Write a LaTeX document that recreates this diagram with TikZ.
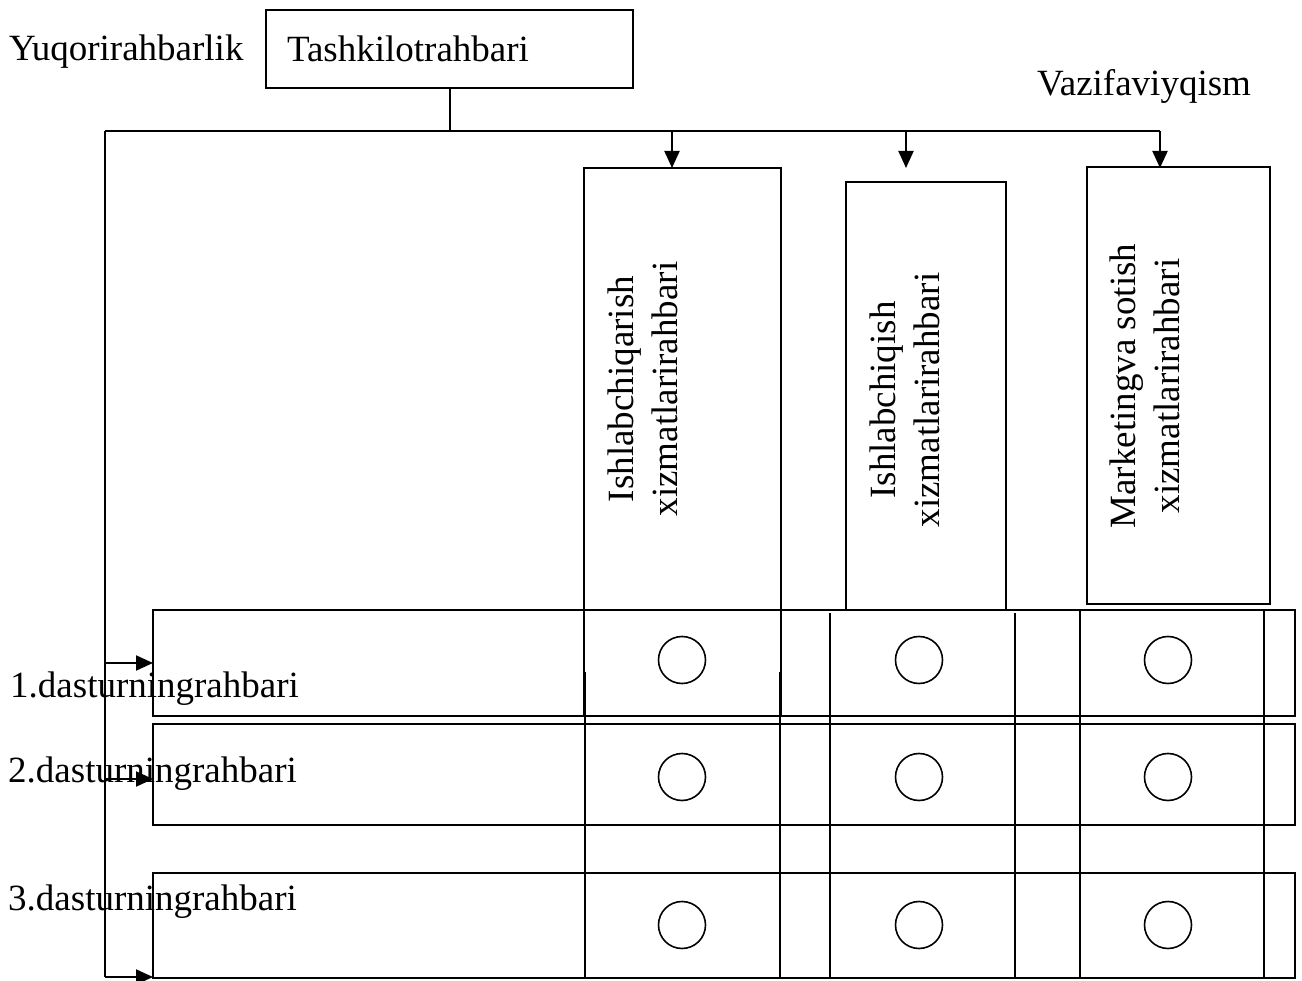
\documentclass[tikz,border=0pt]{standalone}
\usepackage{fontspec}
\setmainfont{Liberation Serif}
\usetikzlibrary{arrows.meta}
\begin{document}
\begin{tikzpicture}[x=1pt,y=-1pt,
  every node/.style={font=\fontsize{37}{44}\selectfont},
  frame/.style={draw, line width=2pt, rectangle, inner sep=0pt, outer sep=0pt, anchor=north west},
  link/.style={line width=2pt},
  arr/.style={line width=2pt, -{Triangle[length=17pt,width=15pt]}},
  gridline/.style={line width=2pt},
  slot/.style={draw, circle, line width=1.6pt, minimum size=47pt, inner sep=0pt},
  vtext/.style={rotate=90, anchor=north, align=center, inner sep=0pt},
  lbl/.style={anchor=base west, inner sep=0pt}]
\useasboundingbox (0,0) rectangle (1302,981);

% top manager
\node[frame, minimum width=367pt, minimum height=78pt, text width=325pt,
      inner xsep=21pt, align=left] (top) at (266,10) {Tashkilotrahbari};
\node[lbl] (lvl) at (9,61) {Yuqorirahbarlik};
\node[lbl] (func) at (1037,96) {Vazifaviyqism};

% programme rows
\node[frame, minimum width=1142pt, minimum height=106pt] (row1) at (153,610) {};
\node[frame, minimum width=1142pt, minimum height=101pt] (row2) at (153,724) {};
\node[frame, minimum width=1142pt, minimum height=105pt] (row3) at (153,873) {};

% functional departments
\node[frame, minimum width=197pt, minimum height=548pt] (b1) at (584,168) {};
\node[frame, minimum width=160pt, minimum height=428pt] (b2) at (846,182) {};
\node[frame, minimum width=183pt, minimum height=437pt] (b3) at (1087,167) {};
\node[vtext] (t1) at (608,389) {Ishlabchiqarish\\xizmatlarirahbari};
\node[vtext] (t2) at (870,400) {Ishlabchiqish\\xizmatlarirahbari};
\node[vtext] (t3) at (1110,386) {Marketingva sotish\\xizmatlarirahbari};

% column lines through the matrix
\foreach \x/\y in {585/672, 780/672, 830/613, 1015/613, 1080/610, 1264/610}
  \draw[gridline] (\x,\y) -- (\x,978);

% intersection markers
\foreach \r/\y in {1/660,2/777,3/925}
  \foreach \c/\x in {1/682,2/919,3/1168}
    \node[slot] (c\r\c) at (\x,\y) {};

% row labels
\node[lbl] (p1) at (10,697) {1.dasturningrahbari};
\node[lbl] (p2) at (8,782) {2.dasturningrahbari};
\node[lbl] (p3) at (8,910) {3.dasturningrahbari};

% connectors
\coordinate (j) at (top.south |- 0,131);
\coordinate (lc) at (105,131);
\coordinate (rc) at (1160,131);
\coordinate (lb) at (105,977);
\coordinate (d1) at (672,168);
\coordinate (d2) at (906,168);
\coordinate (d3) at (1160,168);
\coordinate (e2) at (153,779);
\draw[link] (top.south) -- (j);
\draw[link] (lc) -- (rc);
\draw[link] (lc) -- (lb);
\draw[arr] (d1 |- lc) -- (d1);
\draw[arr] (d2 |- lc) -- (d2);
\draw[arr] (rc) -- (d3);
\draw[arr] (lc |- row1.west) -- (row1.west);
\draw[arr] (lc |- e2) -- (e2);
\draw[arr] (lb) -- (lb -| row3.west);
\end{tikzpicture}
\end{document}
